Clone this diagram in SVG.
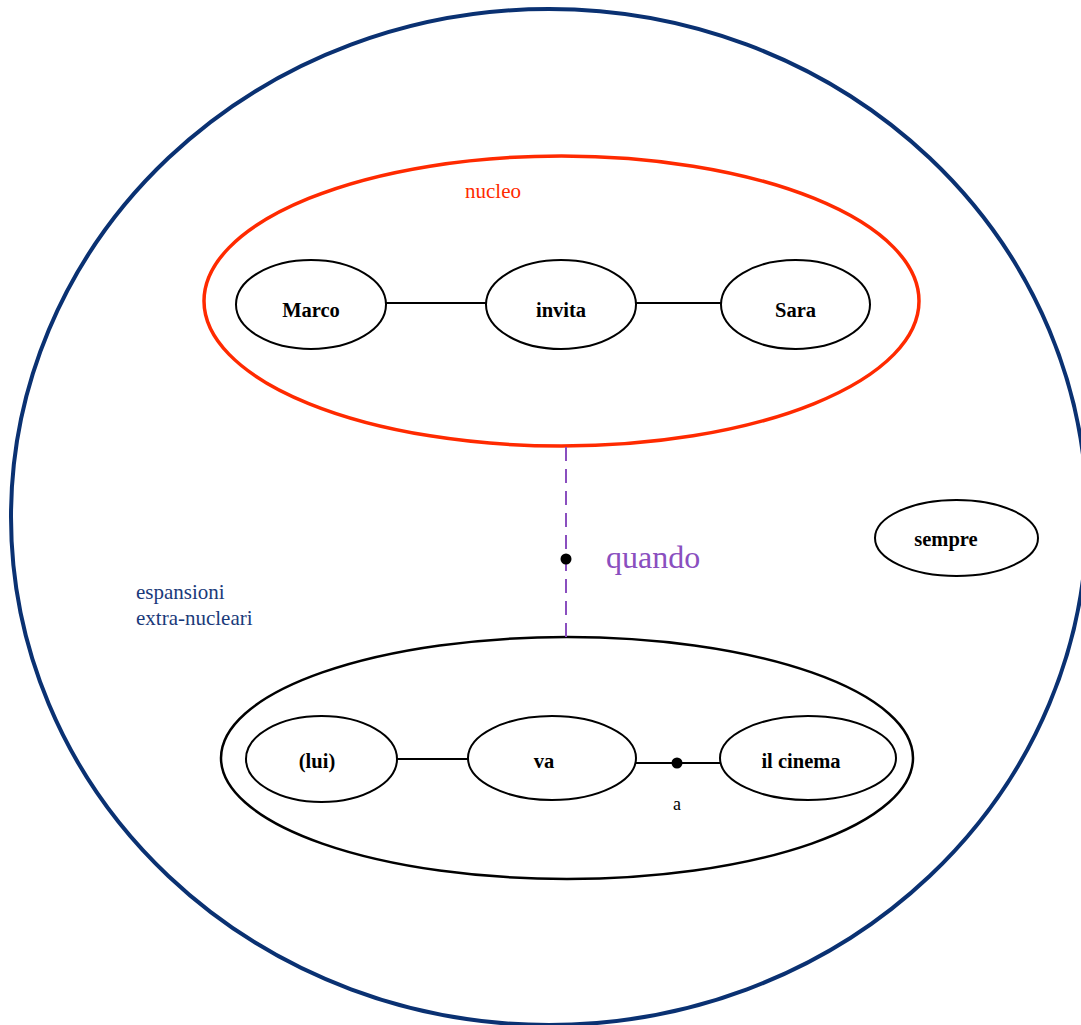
<svg xmlns="http://www.w3.org/2000/svg" width="1081" height="1025" viewBox="0 0 1081 1025">
<style>
.node ellipse{fill:#fff;stroke:#000;stroke-width:2}
.lbl{font-family:"Liberation Serif","Times New Roman",serif;font-weight:bold;font-size:20.5px;fill:#000;text-anchor:middle}
.conn line{stroke:#000;stroke-width:2}
.txt{font-family:"Liberation Serif","Times New Roman",serif}
</style>
<rect width="1081" height="1025" fill="#fff"/>
<g id="outer">
<ellipse cx="549" cy="517" rx="538" ry="508" fill="none" stroke="#0a3172" stroke-width="4"/>
<text class="txt" x="136" y="599" font-size="21" fill="#1a3a7a">espansioni</text>
<text class="txt" x="136" y="625" font-size="21" fill="#1a3a7a">extra-nucleari</text>
</g>
<g id="nucleo">
<ellipse cx="561.5" cy="301" rx="357.5" ry="145" fill="none" stroke="#ff2a00" stroke-width="3.5"/>
<text class="txt" x="493" y="198" font-size="21" fill="#ff2a00" text-anchor="middle">nucleo</text>
</g>
<g id="subordinata">
<ellipse cx="567" cy="758" rx="346" ry="121" fill="none" stroke="#000" stroke-width="2.5"/>
</g>
<g id="connectors">
<g class="conn">
<line x1="386" y1="303" x2="486" y2="303"/>
<line x1="636" y1="303" x2="721" y2="303"/>
<line x1="397" y1="759" x2="468" y2="759"/>
<line x1="636" y1="763" x2="720" y2="763"/>
</g>
<circle cx="677" cy="763" r="5.5" fill="#000"/>
<text class="txt" x="677" y="810" font-size="18" fill="#000" text-anchor="middle">a</text>
<line x1="566" y1="447" x2="566" y2="638" stroke="#8a4fbf" stroke-width="2" stroke-dasharray="14,8"/>
<circle cx="566" cy="559" r="5.5" fill="#000"/>
<text class="txt" x="606" y="568" font-size="32" fill="#8a4fbf">quando</text>
</g>
<g id="n-marco" class="node"><ellipse cx="311" cy="304.5" rx="75" ry="44.5"/><text class="lbl" x="311" y="317">Marco</text></g>
<g id="n-invita" class="node"><ellipse cx="561" cy="304.5" rx="75" ry="44.5"/><text class="lbl" x="561" y="317">invita</text></g>
<g id="n-sara" class="node"><ellipse cx="795.5" cy="304.5" rx="74.5" ry="44.5"/><text class="lbl" x="795.5" y="317">Sara</text></g>
<g id="n-lui" class="node"><ellipse cx="321.5" cy="759" rx="75.5" ry="43"/><text class="lbl" x="317" y="768">(lui)</text></g>
<g id="n-va" class="node"><ellipse cx="552" cy="758" rx="84" ry="42"/><text class="lbl" x="544" y="768">va</text></g>
<g id="n-cinema" class="node"><ellipse cx="808" cy="758" rx="88" ry="42"/><text class="lbl" x="801" y="768">il cinema</text></g>
<g id="n-sempre" class="node"><ellipse cx="956.5" cy="538" rx="81.5" ry="38"/><text class="lbl" x="946" y="546">sempre</text></g>
</svg>
